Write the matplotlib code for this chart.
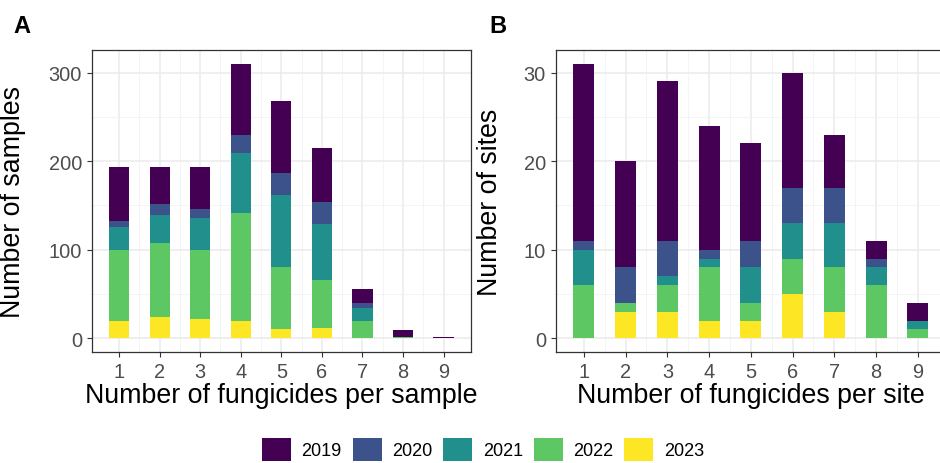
import numpy as np
import matplotlib.pyplot as plt
from matplotlib.patches import Patch

plt.rcParams['font.family'] = ['Liberation Sans', 'DejaVu Sans']

years = ["2019", "2020", "2021", "2022", "2023"]
colors = ["#440154", "#3B528B", "#21908C", "#5DC863", "#FDE725"]
n_fungicides = [1, 2, 3, 4, 5, 6, 7, 8, 9]

# samples per number of fungicides (panel A)
samples = {
    "2019": [61, 41, 47, 80, 81, 61, 16, 7, 2],
    "2020": [6, 13, 10, 21, 25, 25, 6, 0, 0],
    "2021": [26, 31, 36, 67, 81, 63, 14, 0, 0],
    "2022": [80, 84, 78, 122, 71, 54, 20, 2, 0],
    "2023": [20, 24, 22, 20, 10, 12, 0, 0, 0],
}

# sites per number of fungicides (panel B)
sites = {
    "2019": [20, 12, 18, 14, 11, 13, 6, 2, 2],
    "2020": [1, 4, 4, 1, 3, 4, 4, 1, 0],
    "2021": [4, 0, 1, 1, 4, 4, 5, 2, 1],
    "2022": [6, 1, 3, 6, 2, 4, 5, 6, 1],
    "2023": [0, 3, 3, 2, 2, 5, 3, 0, 0],
}

fig = plt.figure(figsize=(9.4, 4.64), dpi=100)
axA = fig.add_axes([91.7 / 940, 1 - 353 / 464, 379.3 / 940, 302 / 464])
axB = fig.add_axes([555.7 / 940, 1 - 353 / 464, 390.3 / 940, 302 / 464])


def draw_stack(ax, data, ymax, major, minor):
    bottom = np.zeros(len(n_fungicides))
    # stack from 2023 at the bottom to 2019 on top
    for year, col in zip(years[::-1], colors[::-1]):
        vals = np.array(data[year])
        ax.bar(n_fungicides, vals, width=0.5, bottom=bottom, color=col, zorder=3)
        bottom += vals
    ax.set_xlim(0.325, 9.675)
    ax.set_ylim(-0.05 * ymax, 1.05 * ymax)
    ax.set_xticks(n_fungicides)
    ax.set_xticks(np.arange(1.5, 9.5, 1), minor=True)
    ax.set_yticks(major)
    ax.set_yticks(minor, minor=True)
    ax.grid(True, which="major", color="#EBEBEB", linewidth=1.1, zorder=0)
    ax.grid(True, which="minor", color="#F2F2F2", linewidth=0.6, zorder=0)
    ax.set_axisbelow(True)
    ax.tick_params(which="major", length=3.5, width=0.8, color="#333333",
                   labelsize=14.4, labelcolor="#4D4D4D", pad=3.5)
    ax.tick_params(which="minor", length=0)
    for sp in ax.spines.values():
        sp.set_color("#333333")
        sp.set_linewidth(0.9)


draw_stack(axA, samples, 310, [0, 100, 200, 300], [50, 150, 250])
draw_stack(axB, sites, 31, [0, 10, 20, 30], [5, 15, 25])

axA.set_xlabel("Number of fungicides per sample", fontsize=19.3, labelpad=1)
axA.set_ylabel("Number of samples", fontsize=19.3)
axA.yaxis.set_label_coords(-0.173, 0.5)
axB.set_xlabel("Number of fungicides per site", fontsize=19.3, labelpad=1)
axB.set_ylabel("Number of sites", fontsize=19.3)
axB.yaxis.set_label_coords(-0.136, 0.5)

fig.text(13 / 940, 1 - 33 / 464, "A", fontsize=17, fontweight="bold", va="baseline")
fig.text(489 / 940, 1 - 33 / 464, "B", fontsize=17, fontweight="bold", va="baseline")

handles = [Patch(facecolor=c, edgecolor="none") for c in colors]
fig.legend(handles, years, loc="center", bbox_to_anchor=(483 / 940, 1 - 450.5 / 464),
           ncol=5, frameon=False, fontsize=13, handlelength=1.6, handleheight=1.6,
           handletextpad=0.59, columnspacing=0.6, borderpad=0, borderaxespad=0)

fig.savefig("out.png", dpi=100)
